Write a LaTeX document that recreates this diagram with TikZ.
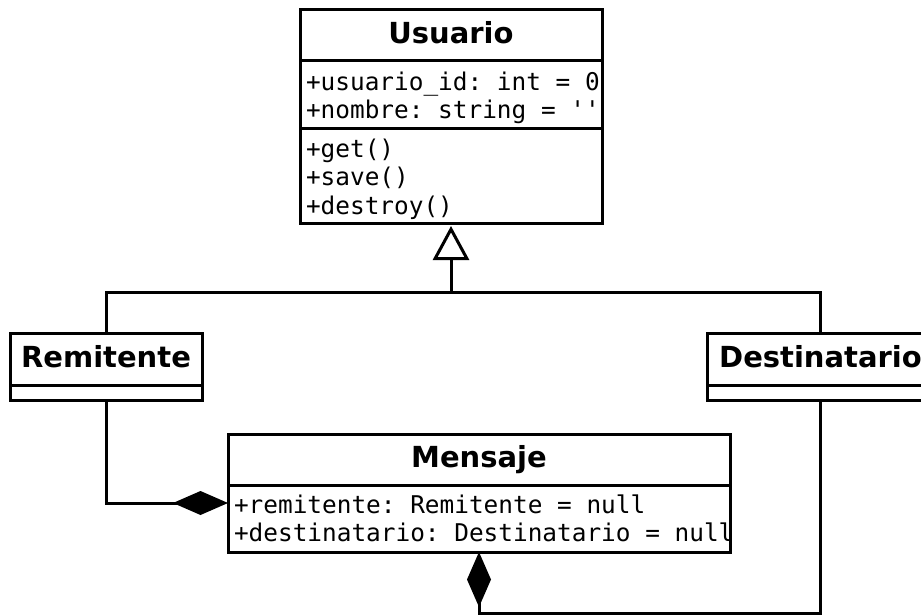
\documentclass[tikz,border=0pt]{standalone}
\usepackage{fontspec}
\setmainfont{DejaVu Sans}
\setmonofont{DejaVu Sans Mono}
\usepackage{tikz}
\usetikzlibrary{arrows.meta,positioning}
\newcommand{\row}[1]{\mbox{#1}}
\newcommand{\sk}{\hspace*{0.602em}}
\newcommand{\lift}{\rule{0pt}{24.5pt}}

\begin{document}
\begin{tikzpicture}[
  x=1pt, y=-1pt, line width=3pt,
  head/.style={draw, rectangle, outer sep=0pt, inner sep=0pt,
    minimum height=51pt, text height=22pt, text depth=6pt,
    font=\fontsize{29}{34}\selectfont\bfseries},
  body/.style={draw, rectangle, outer sep=0pt, inner xsep=6pt, inner ysep=0pt,
    align=left, font=\fontsize{24.4}{28.5}\selectfont\ttfamily},
  inherit/.style={-{Triangle[open, length=34pt, width=36pt]}, shorten >=3pt},
  comp/.style={-{Diamond[length=55pt, width=24pt]}}
]
  \clip (0,0) rectangle (921,615);
  \node[head, minimum width=302pt] (usuario) at (451,35.5) {Usuario};
  \node[body, text width=290pt, minimum height=68pt, below=0pt of usuario] (usuario-a)
    {\row{\lift+usuario\_id:\sk int\sk=\sk 0}\\\row{+nombre:\sk string\sk=\sk ''}};
  \node[body, text width=290pt, minimum height=94pt, below=0pt of usuario-a] (usuario-m)
    {\row{\lift+get()}\\\row{+save()}\\\row{+destroy()}};
  \node[head, minimum width=192pt, minimum height=52pt] (remitente) at (106,359) {Remitente};
  \node[body, text width=180pt, minimum height=15pt, below=0pt of remitente] (remitente-a) {};
  \node[head, minimum width=227pt, minimum height=52pt] (destinatario) at (820.5,359) {Destinatario};
  \node[body, text width=215pt, minimum height=15pt, below=0pt of destinatario] (destinatario-a) {};
  \node[head, minimum width=502pt] (mensaje) at (479,459.5) {Mensaje};
  \node[body, text width=490pt, minimum height=67pt, below=0pt of mensaje] (mensaje-a)
    {\row{+remitente:\sk Remitente\sk=\sk null}\\\row{+destinatario:\sk Destinatario\sk=\sk null}};
  \coordinate (split) at (451,292);
  \draw (remitente.north) |- (split);
  \draw (destinatario.north) |- (split);
  \draw[inherit] (split) -- (usuario-m.south);
  \draw[comp] (remitente-a.south) |- ([yshift=-18pt]mensaje-a.north west);
  \draw[comp] (destinatario-a.south) |- ([yshift=-61pt]mensaje-a.south) -- (mensaje-a.south);
\end{tikzpicture}
\end{document}
